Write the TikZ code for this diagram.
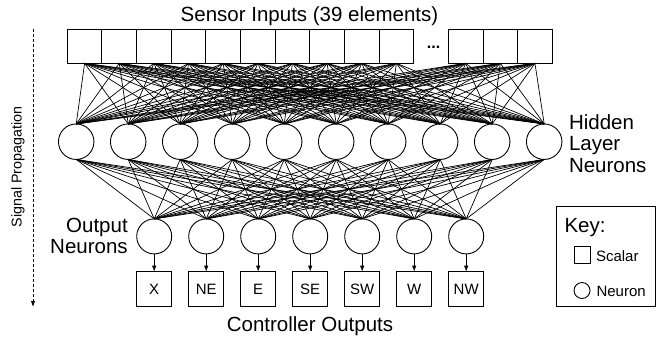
\documentclass[tikz,border=0pt]{standalone}
\usepackage{fontspec}
\setmainfont{Liberation Sans}
\usetikzlibrary{arrows.meta}
\begin{document}
\begin{tikzpicture}[x=1pt,y=-1pt,
  every node/.style={inner sep=0pt, outer sep=0pt},
  inbox/.style={draw, line width=0.9pt, minimum width=34.64pt, minimum height=34pt},
  neuron/.style={draw, circle, line width=0.9pt, minimum size=35.5pt},
  outbox/.style={draw, line width=0.9pt, minimum width=35pt, minimum height=35pt, font=\fontsize{15}{18}\selectfont},
  conn/.style={line width=0.7pt},
  bigtext/.style={font=\fontsize{20.5}{21.5}\selectfont},
  smalltext/.style={font=\fontsize{15}{18}\selectfont},
  tip/.style={-{Latex[length=6pt,width=4.5pt]}}]
\useasboundingbox (0,0) rectangle (663,341);

% title
\node[bigtext, anchor=base] (title) at (309.5,21) {Sensor Inputs (39 elements)};

% input boxes
\foreach \i in {0,...,9,11,12,13}
  \node[inbox] (in\i) at ({84.62+34.64*\i},46.3) {};
\node[font=\fontsize{16}{18}\selectfont\bfseries, anchor=base] (dots) at (433.6,48.3) {...};

% hidden neurons
\foreach \j in {0,...,9}
  \node[neuron] (h\j) at ({76.2+52*\j},141.7) {};

% output neurons and boxes
\foreach \k/\t in {0/X,1/NE,2/E,3/SE,4/SW,5/W,6/NW}{
  \node[neuron, minimum size=35pt] (o\k) at ({154.2+52*\k},236.4) {};
  \node[outbox] (b\k) at ({154.2+52*\k},289.2) {\t};
  \draw[line width=0.9pt, tip] (o\k) -- (b\k);
}

% connections
\foreach \i in {0,...,9,11,12,13}
  \foreach \j in {0,...,9}
    \draw[conn] (in\i.south) -- (h\j.north);
\foreach \j in {0,...,9}
  \foreach \k in {0,...,6}
    \draw[conn] (h\j.south) -- (o\k.north);

% labels
\node[bigtext, align=left, anchor=west] (hidlbl) at (569,143.6) {Hidden\\Layer\\Neurons};
\node[bigtext, align=right, anchor=east] (outlbl) at (127.7,236) {Output\\Neurons};
\node[bigtext, anchor=base] (ctrl) at (310,331.7) {Controller Outputs};

% signal propagation
\coordinate (sigtop) at (33,29);
\coordinate (sigbot) at (33,307);
\draw[line width=0.9pt, dash pattern=on 3pt off 2pt, tip] (sigtop) -- (sigbot);
\node[font=\fontsize{14.3}{17}\selectfont, rotate=90] (siglbl) at (18,167) {Signal Propagation};

% key
\node[draw, line width=0.9pt, minimum width=98.3pt, minimum height=99.8pt] (key) at (605.85,256.7) {};
\node[bigtext, anchor=base west] (keylbl) at (564.5,232.7) {Key:};
\node[draw, line width=0.9pt, minimum size=16.7pt] (ksq) at (582.3,255) {};
\node[smalltext, anchor=base west] (kscal) at (596,261) {Scalar};
\node[draw, circle, line width=0.9pt, minimum size=16pt] (kcirc) at (582,290.5) {};
\node[smalltext, anchor=base west] (kneur) at (596.5,296.7) {Neuron};
\end{tikzpicture}
\end{document}
